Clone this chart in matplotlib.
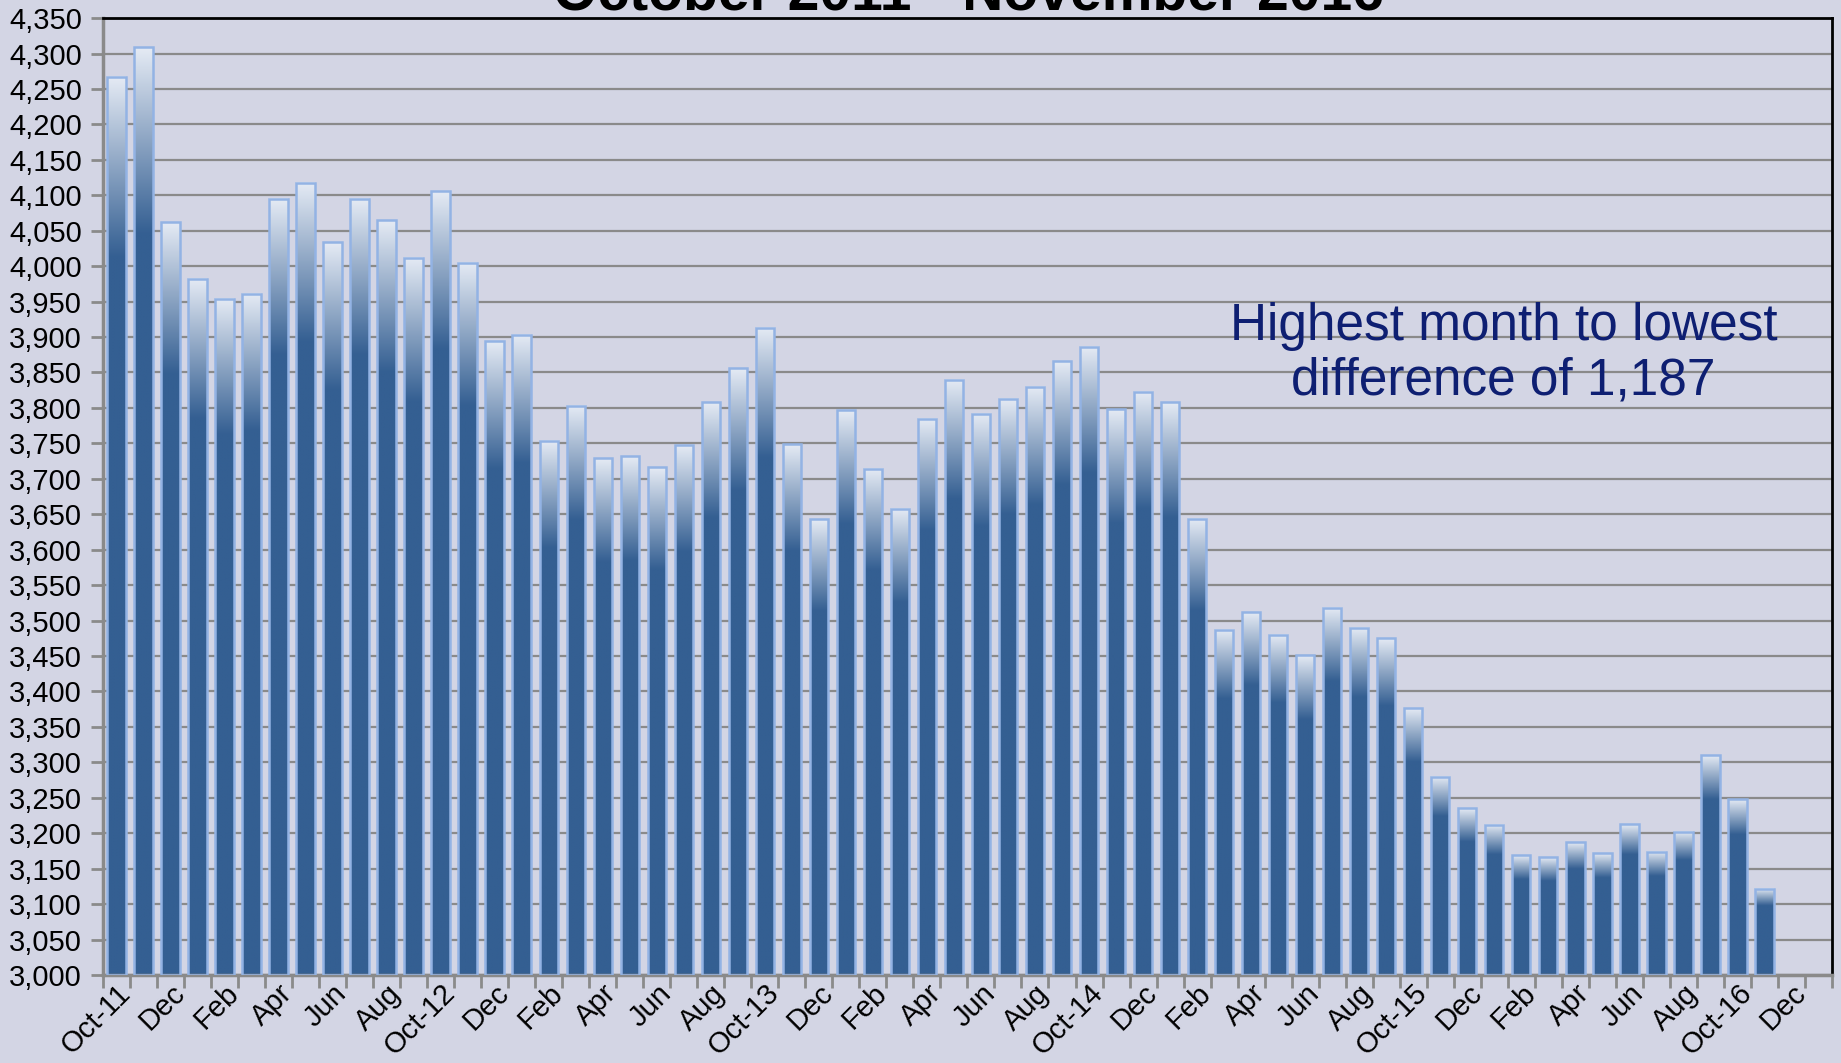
import numpy as np
import matplotlib
matplotlib.use("Agg")
import matplotlib.pyplot as plt
from matplotlib.colors import to_rgb

# monthly values, Oct-11 .. Nov-16
values = [4267, 4309, 4062, 3982, 3954, 3961, 4095, 4118, 4034, 4095, 4065, 4012,
          4106, 4005, 3894, 3903, 3754, 3803, 3729, 3732, 3716, 3747, 3808, 3856,
          3913, 3749, 3643, 3797, 3714, 3658, 3785, 3840, 3792, 3813, 3830, 3866,
          3886, 3798, 3823, 3808, 3644, 3487, 3512, 3480, 3451, 3518, 3490, 3475,
          3376, 3280, 3235, 3212, 3169, 3166, 3187, 3172, 3213, 3174, 3202, 3310,
          3248, 3122]
# every second month gets a label, 64 category slots (Oct-11 .. Jan-17)
tick_labels = ["Oct-11", "Dec", "Feb", "Apr", "Jun", "Aug",
               "Oct-12", "Dec", "Feb", "Apr", "Jun", "Aug",
               "Oct-13", "Dec", "Feb", "Apr", "Jun", "Aug",
               "Oct-14", "Dec", "Feb", "Apr", "Jun", "Aug",
               "Oct-15", "Dec", "Feb", "Apr", "Jun", "Aug",
               "Oct-16", "Dec"]
n_slots = 64

bg = '#d3d5e4'
dark = np.array(to_rgb('#345f92'))
light = np.array(to_rgb('#e4eaf4'))
edge = '#93b3e4'
grid_c = '#8a8a8a'

plt.rcParams['font.family'] = ['Liberation Sans', 'DejaVu Sans']

fig = plt.figure(figsize=(18.41, 10.63), dpi=100, facecolor=bg)
ax = fig.add_axes([0.0559, 0.0828, 0.9392, 0.9002])
ax.set_facecolor(bg)

# gradient: dark body, fades to light over top ~20% of the bar
t = np.linspace(0, 1, 300)
frac = np.clip((t - 0.80) / 0.20, 0, 1)
grad = dark[None, :] * (1 - frac[:, None]) + light[None, :] * frac[:, None]
grad = grad[:, None, :]

width = 0.68
ymin = 3000
for i, v in enumerate(values):
    ax.imshow(grad, extent=[i - width / 2, i + width / 2, ymin, v],
              origin='lower', aspect='auto', zorder=2, interpolation='bilinear')
ax.bar(range(len(values)), [v - ymin for v in values], bottom=ymin, width=width,
       facecolor='none', edgecolor=edge, linewidth=1.8, zorder=3)

ax.set_xlim(-0.5, n_slots - 0.5)
ax.set_ylim(3000, 4350)
ax.set_yticks(np.arange(3000, 4351, 50))
ax.set_yticklabels([f"{v:,}" for v in range(3000, 4351, 50)])
ax.yaxis.grid(True, color=grid_c, linewidth=1.6, zorder=1)
ax.set_axisbelow(True)

# tick marks between categories, labels on every other category
ax.set_xticks(np.arange(-0.5, n_slots, 1.0))
ax.set_xticklabels([])
ax.set_xticks(np.arange(0, n_slots, 2), minor=True)
ax.set_xticklabels(tick_labels, minor=True, rotation=45, ha='right',
                   rotation_mode='anchor', fontsize=21)
ax.tick_params(axis='x', which='minor', length=0, pad=3)
ax.tick_params(axis='x', which='major', length=9, width=2, color=grid_c)
ax.tick_params(axis='y', length=9, width=2, color=grid_c, labelsize=21, pad=6)

for s in ['left', 'bottom']:
    ax.spines[s].set_color(grid_c)
    ax.spines[s].set_linewidth(2.5)
for s in ['top', 'right']:
    ax.spines[s].set_color('black')
    ax.spines[s].set_linewidth(2)

ax.text(0.81, 0.649, "Highest month to lowest\ndifference of 1,187",
        transform=ax.transAxes, ha='center', va='center', fontsize=37,
        color='#0e1f72', linespacing=1.15,
        family=['Liberation Sans Narrow', 'Liberation Sans', 'DejaVu Sans'])

fig.text(0.526, 0.9915, "October 2011 - November 2016", ha='center',
         va='baseline', fontsize=41, fontweight='bold', color='black')

fig.savefig('out.png', dpi=100, facecolor=bg)
